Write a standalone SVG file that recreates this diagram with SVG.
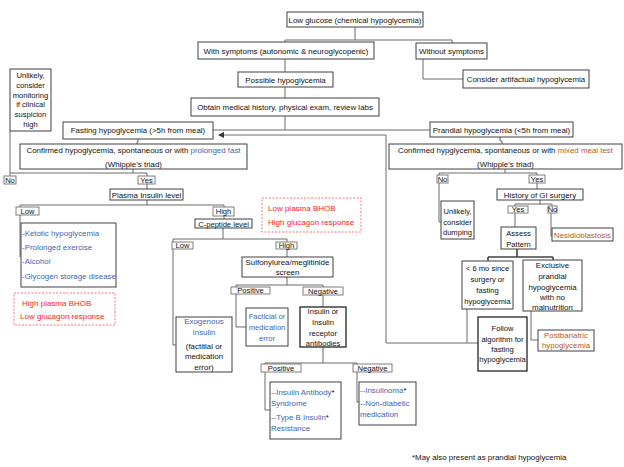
<svg xmlns="http://www.w3.org/2000/svg" width="624" height="467" viewBox="0 0 624 467">
<style>
text{font-family:"Liberation Sans",Arial,sans-serif;font-size:7.9px;fill:#111}
.c{text-anchor:middle}
.b{fill:#3f66b0}
.o{fill:#b85a1e}
.r{fill:#ff1a1a;font-size:8px}
.box{fill:#fff;stroke:#404040;stroke-width:1}
.dk{fill:#fff;stroke:#111;stroke-width:1.2}
.lb{fill:#fff;stroke:#707070;stroke-width:0.9}
.rd{fill:none;stroke:#ff6060;stroke-width:0.9;stroke-dasharray:2 1.5}
.ln{fill:none;stroke:#6a6a6a;stroke-width:1}
.th{fill:none;stroke:#444;stroke-width:1.6}
.sm{font-size:7.6px}
</style>
<defs>
<marker id="ah" markerWidth="6" markerHeight="6" refX="5" refY="3" orient="auto" markerUnits="userSpaceOnUse">
<path d="M0,0 L6,3 L0,6 Z" fill="#333"/>
</marker>
</defs>
<rect width="624" height="467" fill="#fff"/>

<g id="connectors">
<path class="ln" d="M355 27 V40 M285 40 H452 M285 40 V42 M452 40 V43"/>
<path class="ln" d="M423 59 V79 H463"/>
<path class="ln" d="M285 59 V72 M285 87 V98 M285 116 V130 M213 130 H430"/>
<path class="ln" d="M138 139 V142 H137 V144"/>
<path class="ln" d="M500 137 V141 H502 V144"/>
<path class="ln" d="M10 131 V173 H147 M133 169 V173 M10 173 V176 M147 173 V176"/>
<path class="ln" d="M147 184 V189 M147 200 V205 M20 205 H224 M20 205 V208 M224 205 V207"/>
<path class="ln" d="M20 215 V257"/>
<path class="ln" d="M224 216 V219 M223 228 V239 M173 239 H287 M173 239 V242 M287 239 V242"/>
<path class="ln" d="M173 249 V345 H176"/>
<path class="ln" d="M287 249 V257 M287 277 V285 M236 285 H323 M236 285 V287 M323 285 V287"/>
<path class="ln" d="M236 294 V327 H246 M323 295 V307"/>
<path class="ln" d="M323 347 V363 M265 363 H357 M265 363 V364 M357 363 V364"/>
<path class="ln" d="M265 372 V410 H270 M357 372 V402 H359"/>
<path class="ln" d="M505 169 V173 M439 173 H537 M439 173 V175 M537 173 V175"/>
<path class="ln" d="M439 183 V222 H441 M537 183 V189 M540 200 V204 M515 204 H552 M515 204 V206 M552 204 V206"/>
<path class="ln" d="M515 213 V227 M551 213 V236 H552"/>
<path class="th" d="M517 249 V257 M488 257 H553 M488 257 V261 M553 257 V260"/>
<path class="ln" d="M531 311 V340 H538"/>
<path class="ln" d="M467 309 V343 M386 343 H478"/>
<path class="ln" d="M386 343 V135 H219" marker-end="url(#ah)"/>
</g>

<g id="n-low-glucose"><rect class="box" x="287" y="12" width="136" height="15"/><text class="c" x="355" y="22.5">Low glucose (chemical hypoglycemia)</text></g>
<g id="n-with-symptoms"><rect class="box" x="198" y="42" width="176" height="17"/><text class="c" x="286" y="53.5">With symptoms (autonomic &amp; neuroglycopenic)</text></g>
<g id="n-without-symptoms"><rect class="box" x="416" y="43" width="71" height="16"/><text class="c" x="451.5" y="53.5">Without symptoms</text></g>
<g id="n-artifactual"><rect class="box" x="463" y="70" width="126" height="18"/><text class="c" x="526" y="81.5">Consider artifactual hypoglycemia</text></g>
<g id="n-possible"><rect class="box" x="238" y="72" width="95" height="15"/><text class="c" x="285.5" y="82.5">Possible hypoglycemia</text></g>
<g id="n-obtain"><rect class="box" x="191" y="98" width="188" height="18"/><text class="c" x="285" y="109.5">Obtain medical history, physical exam, review labs</text></g>
<g id="n-unlikely-monitor"><rect class="box" x="10" y="69" width="41" height="62"/>
<text class="c sm" x="30.5" y="77.5">Unlikely,</text><text class="c sm" x="30.5" y="87.5">consider</text><text class="c sm" x="30.5" y="97.5">monitoring</text><text class="c sm" x="30.5" y="107">if clinical</text><text class="c sm" x="30.5" y="117">suspicion</text><text class="c sm" x="30.5" y="127">high</text></g>
<g id="n-fasting"><rect class="box" x="63" y="122" width="150" height="17"/><text class="c" x="138" y="133">Fasting hypoglycemia (&gt;5h from meal)</text></g>
<g id="n-prandial"><rect class="box" x="430" y="122" width="143" height="15"/><text class="c" x="501.5" y="132.5">Prandial hypoglycemia (&lt;5h from meal)</text></g>
<g id="n-confirmed-fast"><rect class="box" x="20" y="144" width="227" height="25"/>
<text class="c" x="133.5" y="153">Confirmed hypoglycemia, spontaneous or with <tspan class="b">prolonged fast</tspan></text><text class="c" x="133.5" y="167">(Whipple’s triad)</text></g>
<g id="n-confirmed-meal"><rect class="box" x="389" y="144" width="233" height="25"/>
<text class="c" x="505.5" y="152.5">Confirmed hypglycemia, spontaneous or with <tspan class="o">mixed meal test</tspan></text><text class="c" x="505.5" y="166.5">(Whipple’s triad)</text></g>

<g id="l-no-1"><rect class="lb" x="4" y="176" width="12" height="8"/><text class="c sm" x="10" y="182.5">No</text></g>
<g id="l-yes-1"><rect class="lb" x="138" y="176" width="17" height="8"/><text class="c sm" x="146.5" y="182.5">Yes</text></g>
<g id="n-plasma-insulin"><rect class="box" x="110" y="189" width="73" height="11"/><text class="c" x="146.5" y="197.5">Plasma Insulin level</text></g>
<g id="l-low-1"><rect class="lb" x="16" y="207" width="23" height="8"/><text class="c sm" x="27.5" y="213.5">Low</text></g>
<g id="l-high-1"><rect class="lb" x="213" y="207" width="21" height="9"/><text class="c sm" x="223.5" y="214">High</text></g>
<g id="n-low-list"><rect class="box" x="21" y="223" width="95" height="64"/>
<text class="b" x="22" y="236">-Ketotic hypoglycemia</text><text class="b" x="22" y="250">-Prolonged exercise</text><text class="b" x="22" y="264">-Alcohol</text><text class="b" x="22" y="278.5">-Glycogen storage disease</text></g>
<g id="n-high-bhob"><rect class="rd" x="14" y="293" width="101" height="32"/><text class="r" x="22" y="306">High plasma BHOB</text><text class="r" x="20" y="319">Low glucagon response</text></g>
<g id="n-low-bhob"><rect class="rd" x="262" y="198" width="99" height="34"/><text class="r" x="268" y="211">Low plasma BHOB</text><text class="r" x="268" y="224.5">High glucagon response</text></g>
<g id="n-cpeptide"><rect class="box" x="195" y="219" width="57" height="9"/><text class="c sm" x="223.5" y="226.5">C-peptide level</text></g>
<g id="l-low-2"><rect class="lb" x="172" y="242" width="21" height="7"/><text class="c sm" x="182.5" y="248">Low</text></g>
<g id="l-high-2"><rect class="lb" x="276" y="242" width="21" height="7"/><text class="c sm" x="286.5" y="248">High</text></g>
<g id="n-exogenous"><rect class="box" x="176" y="317" width="56" height="55"/>
<text class="c b" x="204" y="323.5">Exogenous</text><text class="c b" x="204" y="334.5">Insulin</text><text class="c" x="204" y="348.5">(factitial or</text><text class="c" x="204" y="359">medication</text><text class="c" x="204" y="369.5">error)</text></g>
<g id="n-sulfonylurea"><rect class="box" x="242" y="257" width="91" height="20"/><text class="c" x="287.5" y="264.5">Sulfonylurea/meglitinide</text><text class="c" x="287.5" y="274.5">screen</text></g>
<g id="l-positive-1"><rect class="lb" x="231" y="287" width="39" height="7"/><text class="c sm" x="250.5" y="293">Positive</text></g>
<g id="l-negative-1"><rect class="lb" x="303" y="287" width="40" height="8"/><text class="c sm" x="323" y="293.5">Negative</text></g>
<g id="n-facticial"><rect class="box" x="246" y="308" width="42" height="38"/>
<text class="c b sm" x="267" y="318.5">Facticial or</text><text class="c b sm" x="267" y="329.5">medication</text><text class="c b sm" x="267" y="340.5">error</text></g>
<g id="n-antibodies"><rect class="dk" x="300" y="307" width="46" height="40"/>
<text class="c sm" x="323" y="314">Insulin or</text><text class="c sm" x="323" y="324.5">Insulin</text><text class="c sm" x="323" y="335.5">receptor</text><text class="c sm" x="323" y="346">antibodies</text></g>
<g id="l-positive-2"><rect class="lb" x="261" y="364" width="40" height="8"/><text class="c sm" x="281" y="370.5">Positive</text></g>
<g id="l-negative-2"><rect class="lb" x="353" y="364" width="39" height="8"/><text class="c sm" x="372.5" y="370.5">Negative</text></g>
<g id="n-antibody-syndrome"><rect class="box" x="270" y="382" width="71" height="57"/>
<text x="271" y="395"><tspan class="b">--Insulin Antibody</tspan>*</text><text class="b" x="271" y="405.5">Syndrome</text><text x="271" y="420"><tspan class="b">--Type B Insulin</tspan>*</text><text class="b" x="271" y="431">Resistance</text></g>
<g id="n-insulinoma"><rect class="box" x="359" y="382" width="57" height="43"/>
<text x="360" y="393"><tspan class="b">--Insulinoma</tspan>*</text><text class="b" x="360" y="406">--Non-diabetic</text><text class="b" x="360" y="416.5">medication</text></g>

<g id="l-no-2"><rect class="lb" x="437" y="175" width="11" height="8"/><text class="c sm" x="442.5" y="181.5">No</text></g>
<g id="l-yes-2"><rect class="lb" x="529" y="175" width="16" height="8"/><text class="c sm" x="537" y="181.5">Yes</text></g>
<g id="n-unlikely-dumping"><rect class="box" x="441" y="201" width="33" height="38"/>
<text class="c sm" x="457.5" y="214">Unlikely,</text><text class="c sm" x="457.5" y="224.5">consider</text><text class="c sm" x="457.5" y="235">dumping</text></g>
<g id="n-gi-surgery"><rect class="box" x="497" y="189" width="86" height="11"/><text class="c" x="540" y="197.5">History of GI surgery</text></g>
<g id="l-yes-3"><rect class="lb" x="508" y="206" width="20" height="7"/><text class="c sm" x="518" y="212">Yes</text></g>
<g id="l-no-3"><rect class="lb" x="548" y="206" width="9" height="7"/><text class="c sm" x="552.5" y="212">No</text></g>
<g id="n-assess"><rect class="box" x="501" y="227" width="35" height="22"/><text class="c sm" x="518.5" y="236">Assess</text><text class="c sm" x="518.5" y="246.5">Pattern</text></g>
<g id="n-nesidio"><rect class="box" x="552" y="228" width="61" height="13"/><text class="c o" x="582.5" y="237.5">Nesidioblastosis</text></g>
<g id="n-six-months"><rect class="box" x="462" y="261" width="51" height="48"/>
<text class="c sm" x="487.5" y="271">&lt; 6 mo since</text><text class="c sm" x="487.5" y="281.5">surgery or</text><text class="c sm" x="487.5" y="292.5">fasting</text><text class="c sm" x="487.5" y="304">hypoglycemia</text></g>
<g id="n-exclusive"><rect class="box" x="523" y="260" width="59" height="51"/>
<text class="c" x="552.5" y="268">Exclusive</text><text class="c" x="552.5" y="278.5">prandial</text><text class="c" x="552.5" y="289.5">hypoglycemia</text><text class="c" x="552.5" y="299.5">with no</text><text class="c" x="552.5" y="309.5">malnutrition</text></g>
<g id="n-postbariatric"><rect class="box" x="538" y="330" width="56" height="21"/><text class="c o" x="566" y="337.5">Postbariatric</text><text class="c o" x="566" y="347.5">hypoglycemia</text></g>
<g id="n-follow"><rect class="dk" x="478" y="317" width="49" height="54"/>
<text class="c sm" x="502.5" y="331">Follow</text><text class="c sm" x="502.5" y="341.5">algorithm for</text><text class="c sm" x="502.5" y="352">fasting</text><text class="c sm" x="502.5" y="362">hypoglycemia</text></g>

<text x="412" y="460">*May also present as prandial hypoglycemia</text>
</svg>
